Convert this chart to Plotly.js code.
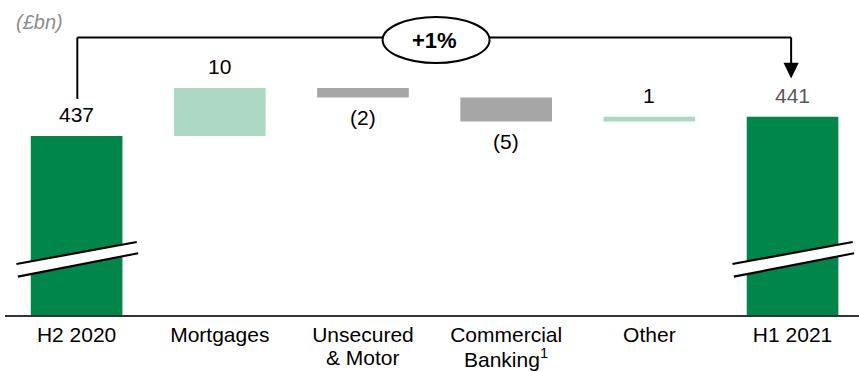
<!DOCTYPE html>
<html>
<head>
<meta charset="utf-8">
<script src="https://cdn.plot.ly/plotly-3.0.1.min.js"></script>
<style>html,body{margin:0;padding:0;background:#fff;}#chart{width:859px;height:372px;}</style>
</head>
<body>
<div id="chart"></div>
<script>
// ---- data ----
const categories = ["H2 2020", "Mortgages", "Unsecured<br>& Motor", "Commercial<br>Banking<sup>1</sup>", "Other", "H1 2021"];
const values = [437, 10, -2, -5, 1, 441];
const measures = ["absolute", "relative", "relative", "relative", "relative", "total"];
const valueLabels = ["437", "10", "(2)", "(5)", "1", "441"];
const changeLabel = "+1%";
const unitLabel = "(£bn)";

// ---- style ----
const GREEN = "#00854a", PALE = "#acd8c3", GRAY = "#a6a6a6";
const FONT = "Liberation Sans, Arial, sans-serif";
const XR = [-0.5, 5.464];
const px = (c) => (c - XR[0]) / (XR[1] - XR[0]);   // category position -> paper x

// running totals
let run = 0; const ends = [];
values.forEach((v, i) => {
  if (measures[i] === "absolute") run = v;
  else if (measures[i] === "relative") run += v;
  ends.push(run);
});

const firstLines = categories.map(c => c.split("<br>")[0]);
const secondLines = categories.map(c => c.split("<br>")[1] || "");

const trace = {
  type: "waterfall",
  x: categories, y: values, measure: measures,
  width: 0.64,
  connector: {visible: false},
  increasing: {marker: {color: PALE}},
  decreasing: {marker: {color: GRAY}},
  totals: {marker: {color: GREEN}},
  textinfo: "none", hoverinfo: "skip"
};

const annotations = [];
values.forEach((v, i) => {
  const neg = measures[i] === "relative" && v < 0;
  annotations.push({
    xref: "x", yref: "y", x: i, y: ends[i],
    yshift: neg ? -20 : 21, yanchor: "middle",
    text: valueLabels[i], showarrow: false,
    font: {family: FONT, size: 21, color: i === values.length - 1 ? "#595959" : "#000"}
  });
  if (secondLines[i]) annotations.push({
    xref: "paper", yref: "paper", x: px(i), y: -0.135, yanchor: "middle",
    text: secondLines[i], showarrow: false,
    font: {family: FONT, size: 21, color: "#000"}
  });
});
annotations.push({xref: "paper", yref: "paper", x: px(2.5), y: 0.872, yanchor: "middle",
  text: "<b>" + changeLabel + "</b>", showarrow: false, font: {family: FONT, size: 22, color: "#000"}});
annotations.push({xref: "paper", yref: "paper", x: 0.011, xanchor: "left", y: 0.93, yanchor: "middle",
  text: "<i>" + unitLabel + "</i>", showarrow: false, font: {family: FONT, size: 20, color: "#8c8c8c"}});

const shapes = [];
// axis breaks on the two total bars
[0, values.length - 1].forEach(i => {
  const a = px(i - 0.42), b = px(i + 0.42), a2 = px(i - 0.41), b2 = px(i + 0.43);
  shapes.push({type: "path", xref: "paper", yref: "paper",
    path: `M${a},0.1619 L${b},0.2317 L${b2},0.1959 L${a2},0.1216 Z`,
    fillcolor: "#fff", line: {width: 0}});
  shapes.push({type: "line", xref: "paper", yref: "paper", x0: a, y0: 0.1619, x1: b, y1: 0.2317, line: {color: "#000", width: 2.2}});
  shapes.push({type: "line", xref: "paper", yref: "paper", x0: a2, y0: 0.1216, x1: b2, y1: 0.1959, line: {color: "#000", width: 2.2}});
});
// bracket connector
const L = px(0.005), R = px(values.length - 1 - 0.01);
const yTop = 0.881;
shapes.push({type: "line", xref: "paper", yref: "paper", x0: L, y0: 0.686, x1: L, y1: yTop, line: {color: "#000", width: 2}});
shapes.push({type: "line", xref: "paper", yref: "paper", x0: L, y0: yTop, x1: R, y1: yTop, line: {color: "#000", width: 2}});
shapes.push({type: "line", xref: "paper", yref: "paper", x0: R, y0: yTop, x1: R, y1: 0.80, line: {color: "#000", width: 2}});
shapes.push({type: "path", xref: "paper", yref: "paper",
  path: `M${px(values.length - 1 - 0.01 - 0.053)},0.801 L${px(values.length - 1 - 0.01 + 0.053)},0.801 L${R},0.751 Z`,
  fillcolor: "#000", line: {width: 0}});
shapes.push({type: "circle", xref: "paper", yref: "paper", x0: px(2.137), x1: px(2.884), y0: 0.80, y1: 0.946,
  fillcolor: "#fff", line: {color: "#000", width: 2}});

const layout = {
  width: 859, height: 372,
  margin: {l: 5, r: 0, t: 0, b: 57},
  paper_bgcolor: "#fff", plot_bgcolor: "#fff",
  showlegend: false,
  xaxis: {type: "category", range: XR, tickvals: categories, ticktext: firstLines,
    showline: true, linecolor: "#333", linewidth: 2, ticks: "", showgrid: false, zeroline: false,
    tickfont: {family: FONT, size: 21, color: "#000"}, fixedrange: true},
  yaxis: {visible: false, range: [399.71, 465.33], showgrid: false, zeroline: false, fixedrange: true},
  annotations: annotations,
  shapes: shapes,
  font: {family: FONT}
};

Plotly.newPlot("chart", [trace], layout, {displayModeBar: false, staticPlot: true});
</script>
</body>
</html>
